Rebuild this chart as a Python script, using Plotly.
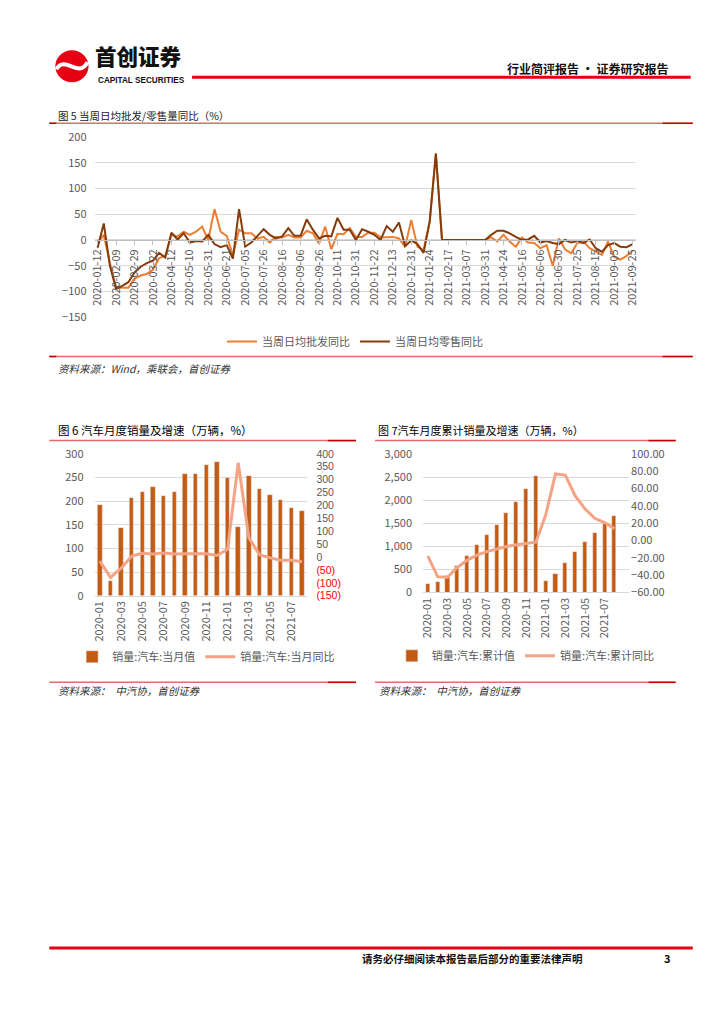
import plotly.graph_objects as go

# figure is 708x1008 inside the page's default 8px body margin
OFF = 8
W, H = 724 - 2 * OFF, 1024 - 2 * OFF
SX, BX = 0.982, 7.03     # observed page -> picture mapping (horizontal)
SY, BY = 0.9832, 8.93    # observed page -> picture mapping (vertical)
def X(t):
    p = (t - BX) / SX
    return (p - OFF) / W
def Y(t):
    p = (t - BY) / SY
    return 1 - (p - OFF) / H

FONT = "Noto Sans CJK SC, Noto Sans, sans-serif"
GRAY = "#595959"
GRID = "#D9D9D9"

# ---------------- Figure 5 : weekly wholesale / retail yoy ----------------
week_tick_labels = ["2020-01-12", "2020-02-09", "2020-02-29", "2020-03-22", "2020-04-12",
                    "2020-05-10", "2020-05-31", "2020-06-21", "2020-07-05", "2020-07-26",
                    "2020-08-16", "2020-09-06", "2020-09-26", "2020-10-11", "2020-10-31",
                    "2020-11-22", "2020-12-13", "2020-12-31", "2021-01-24", "2021-02-17",
                    "2021-03-07", "2021-03-31", "2021-04-24", "2021-05-16", "2021-06-06",
                    "2021-06-30", "2021-07-25", "2021-08-15", "2021-09-05", "2021-09-25"]
wholesale_yoy = [-5, 10, -45, -92, -93, -93, -75, -69, -66, -58,
                 -35, -31, 10, 7, 16, 10, 16, 26, 0, 60,
                 16, 8, -30, 20, 13, 13, 3, 6, -5, 6,
                 5, 10, 5, 5, 18, 13, -7, 26, -18, 12,
                 11, 23, 6, 6, 14, 14, 5, 6, 6, 3,
                 -13, 39, -13, -20, 36, 168, 0, 0, 0, 0,
                 0, 0, 0, 0, 5, -3, 10, -3, -13, 5,
                 -5, -6, -16, -10, -50, 3, -18, -26, -6, -3,
                 -16, -23, -29, -3, -33, -38, -31, -20]
retail_yoy = [-15, 32, -50, -95, -89, -82, -63, -52, -45, -40,
              -25, -34, 14, 1, 13, -5, -2, -3, 10, -8,
              -14, -10, -36, 60, -13, -5, 8, 21, 10, 3,
              7, 23, 8, 8, 40, 20, 3, 8, 7, 43,
              20, 20, 0, 21, 16, 10, 0, 27, 16, 34,
              -12, -1, -8, -25, 36, 168, 0, 0, 0, 0,
              0, 0, 0, 0, 10, 18, 18, 13, 6, 0,
              1, 8, -5, -2, -6, -8, 0, -5, -2, -6,
              1, -16, -23, -10, -6, -13, -14, -8]
week_idx = list(range(len(retail_yoy)))
week_tick_idx = week_idx[::3]

# ---------------- Figure 6 : monthly sales ----------------
months = ["2020-01", "2020-02", "2020-03", "2020-04", "2020-05", "2020-06", "2020-07",
          "2020-08", "2020-09", "2020-10", "2020-11", "2020-12", "2021-01", "2021-02",
          "2021-03", "2021-04", "2021-05", "2021-06", "2021-07", "2021-08"]
monthly_sales = [192, 31, 143, 207, 219, 230, 211, 219, 257, 257,
                 277, 283, 250, 146, 253, 225, 213, 202, 186, 180]
monthly_yoy = [-16, -79, -43, 4, 15, 12, 16, 12, 13, 13,
               13, 6, 30, 365, 75, 9, -3, -12, -12, -18]
month_idx = list(range(len(months)))

right6_vals = [400, 350, 300, 250, 200, 150, 100, 50, 0, -50, -100, -150]
right6_text = ["400", "350", "300", "250", "200", "150", "100", "50", "0",
               "<span style='color:#FF0000'>(50)</span>",
               "<span style='color:#FF0000'>(100)</span>",
               "<span style='color:#FF0000'>(150)</span>"]

# ---------------- Figure 7 : cumulative sales ----------------
cum_sales = [194, 224, 367, 574, 796, 1026, 1237, 1455, 1712, 1969,
             2247, 2531, 250, 396, 648, 874, 1086, 1289, 1476, 1655]
cum_yoy = [-18.0, -42.0, -42.4, -31.1, -22.6, -16.9, -12.8, -9.7, -6.9, -4.8,
           -3.0, -1.9, 29.5, 76.9, 75.6, 51.8, 36.6, 25.6, 20.7, 13.7]

ORANGE = "#ED7D31"
BROWN = "#843C0C"
BAR = "#C55A11"
SALMON = "#F4A384"

fig = go.Figure()

fig.add_trace(go.Scatter(x=week_idx, y=wholesale_yoy, mode="lines", name="当周日均批发同比",
                         line=dict(color=ORANGE, width=2), xaxis="x", yaxis="y", legend="legend"))
fig.add_trace(go.Scatter(x=week_idx, y=retail_yoy, mode="lines", name="当周日均零售同比",
                         line=dict(color=BROWN, width=2), xaxis="x", yaxis="y", legend="legend"))

fig.add_trace(go.Bar(x=month_idx, y=monthly_sales, name="销量:汽车:当月值", marker_color=BAR,
                     width=0.42, xaxis="x2", yaxis="y2", legend="legend2"))
fig.add_trace(go.Scatter(x=month_idx, y=monthly_yoy, mode="lines", name="销量:汽车:当月同比",
                         line=dict(color=SALMON, width=3), xaxis="x2", yaxis="y3", legend="legend2"))

fig.add_trace(go.Bar(x=month_idx, y=cum_sales, name="销量:汽车:累计值", marker_color=BAR,
                     width=0.42, xaxis="x3", yaxis="y4", legend="legend3"))
fig.add_trace(go.Scatter(x=month_idx, y=cum_yoy, mode="lines", name="销量:汽车:累计同比",
                         line=dict(color=SALMON, width=3), xaxis="x3", yaxis="y5", legend="legend3"))

tickfont = dict(family=FONT, size=11, color=GRAY)
tickfont_right6 = dict(family="Liberation Sans, Arial, sans-serif", size=10.5, color=GRAY)

# chart 5 geometry
c5_top, c5_bot = 136.7, 316.7
c5_zero = Y(c5_top + (c5_bot - c5_top) * 200 / 350)

legend_common = dict(orientation="h", font=dict(family=FONT, size=11, color=GRAY),
                     bgcolor="rgba(0,0,0,0)", itemwidth=30, yanchor="middle", xanchor="center")

fig.update_layout(
    width=W, height=H, autosize=False,
    margin=dict(l=0, r=0, t=0, b=0),
    paper_bgcolor="white", plot_bgcolor="rgba(0,0,0,0)",
    font=dict(family=FONT, size=11, color=GRAY),
    bargap=0,
    xaxis=dict(domain=[X(95), X(633.3)], range=[-0.5, len(week_idx) - 0.5],
               anchor="free", position=c5_zero,
               tickvals=week_tick_idx, ticktext=week_tick_labels, tickangle=-90,
               tickfont=tickfont, showgrid=False, showline=True, linecolor="#BFBFBF",
               ticks="outside", ticklen=4, tickcolor="#BFBFBF", zeroline=False),
    yaxis=dict(domain=[Y(c5_bot), Y(c5_top)], range=[-150, 200], dtick=50, tick0=0,
               showgrid=True, gridcolor=GRID, zeroline=False, showline=False,
               tickfont=tickfont, ticklabelstandoff=7, anchor="x"),
    xaxis2=dict(domain=[X(95), X(306.7)], range=[-0.5, 19.5], anchor="y2",
                tickvals=month_idx[::2], ticktext=months[::2], tickangle=-90,
                tickfont=tickfont, showgrid=False, showline=True, linecolor=GRID,
                ticks="", zeroline=False),
    yaxis2=dict(domain=[Y(595), Y(453.3)], range=[0, 300], dtick=50,
                showgrid=True, gridcolor=GRID, zeroline=False, tickfont=tickfont,
                ticklabelstandoff=10, anchor="x2"),
    yaxis3=dict(overlaying="y2", side="right", anchor="x2", range=[-150, 400],
                tickvals=right6_vals, ticktext=right6_text, showgrid=False,
                zeroline=False, tickfont=tickfont_right6, ticklabelstandoff=8),
    xaxis3=dict(domain=[X(421.7), X(626.7)], range=[-0.5, 20.5], anchor="y4",
                tickvals=month_idx[::2], ticktext=months[::2], tickangle=-90,
                tickfont=tickfont, showgrid=False, showline=True, linecolor=GRID,
                ticks="", zeroline=False),
    yaxis4=dict(domain=[Y(591.7), Y(453.3)], range=[0, 3000], dtick=500,
                tickformat=",", showgrid=True, gridcolor=GRID, zeroline=False,
                tickfont=tickfont, ticklabelstandoff=10, anchor="x3"),
    yaxis5=dict(overlaying="y4", side="right", anchor="x3", range=[-60, 100], dtick=20,
                tickformat=".2f", showgrid=False, zeroline=False, tickfont=tickfont,
                ticklabelstandoff=1),
    legend=dict(x=X(354), y=Y(341), **legend_common),
    legend2=dict(x=X(206), y=Y(656), **legend_common),
    legend3=dict(x=X(524), y=Y(655), **legend_common),
    showlegend=True,
)

shapes = []
def hline(x0, x1, y, color, width):
    shapes.append(dict(type="line", xref="paper", yref="paper", x0=X(x0), x1=X(x1),
                       y0=Y(y), y1=Y(y), line=dict(color=color, width=width)))

LRED = "#E26B6B"
DRED = "#C00000"
# header
hline(192, 688, 77, "#E60012", 3)
# footer
hline(50, 690, 947, "#E60012", 3)
# chart 5 lines
for y in (123, 356):
    hline(50, 690, y, LRED, 1.5)
    hline(50, 57, y, DRED, 1.5)
    hline(660, 690, y, DRED, 1.5)
# chart 6 / 7 lines
for y in (440, 681.5):
    hline(50, 355, y, LRED, 1.5)
    hline(327, 355, y, DRED, 1.5)
    hline(374, 673, y, LRED, 1.5)
    hline(646, 673, y, DRED, 1.5)

# logo
shapes.append(dict(type="circle", xref="paper", yref="paper",
                   x0=X(56), x1=X(89), y0=Y(82), y1=Y(50),
                   fillcolor="#E60012", line=dict(color="#E60012", width=0)))
path = "M {:.5f},{:.5f} C {:.5f},{:.5f} {:.5f},{:.5f} {:.5f},{:.5f}".format(
    X(57), Y(69), X(66), Y(54), X(79), Y(79), X(88), Y(62))
shapes.append(dict(type="path", xref="paper", yref="paper", path=path,
                   line=dict(color="white", width=4)))
fig.update_layout(shapes=shapes)

ann = []
def text(x, y, s, size=11, color="#000000", anchor="left", bold=False, italic=False,
         family=FONT, weight=None, yanchor="middle"):
    if italic:
        s = "<i>" + s + "</i>"
    f = dict(family=family, size=size, color=color)
    if weight is not None:
        f["weight"] = weight
    elif bold:
        f["weight"] = "bold"
    ann.append(dict(xref="paper", yref="paper", x=X(x), y=Y(y), text=s, showarrow=False,
                    xanchor=anchor, yanchor=yanchor, font=f))

text(93, 73, "首创证券", size=21.5, color="#111111", weight=900, yanchor="bottom")
text(96, 74, "CAPITAL SECURITIES", size=8.2, color="#111111", bold=True,
     family="Liberation Sans, Arial, sans-serif", yanchor="top")
text(667, 68, "行业简评报告 · 证券研究报告", size=12, color="#111111", anchor="right", bold=True)

text(57, 115, "图 5 当周日均批发/零售量同比（%）", size=10.5, color="#222222")
text(57, 368, "资料来源：Wind，乘联会，首创证券", size=10.5, color="#333333", italic=True)

text(57, 429, "图 6 汽车月度销量及增速（万辆，%）", size=11.5, color="#000000")
text(375, 429, "图 7汽车月度累计销量及增速（万辆，%）", size=11, color="#000000")
text(57, 690, "资料来源：  中汽协，首创证券", size=10.5, color="#333333", italic=True)
text(376, 690, "资料来源：  中汽协，首创证券", size=10.5, color="#333333", italic=True)

text(583, 957, "请务必仔细阅读本报告最后部分的重要法律声明", size=10.5, color="#111111",
     anchor="right", bold=True)
text(670, 957, "3", size=11, color="#111111", anchor="right", bold=True)

fig.update_layout(annotations=ann)

fig.write_html("out.html", config={"displayModeBar": False})
